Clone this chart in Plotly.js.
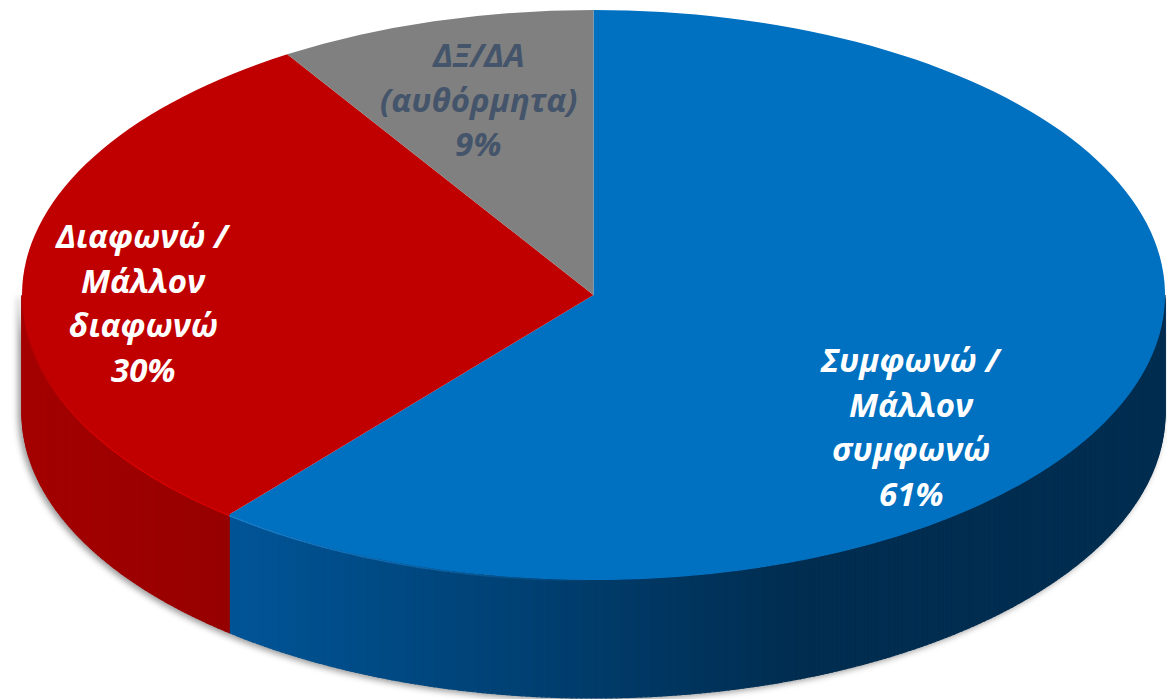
<!DOCTYPE html>
<html><head><meta charset="utf-8">
<script src="https://cdn.plot.ly/plotly-3.0.1.min.js"></script>
<style>html,body{margin:0;padding:0;background:#fff}#c{width:1167px;height:699px}</style>
</head><body><div id="c"></div>
<script>
const categories = ['Συμφωνώ /<br>Μάλλον<br>συμφωνώ', 'Διαφωνώ /<br>Μάλλον<br>διαφωνώ', 'ΔΞ/ΔΑ<br>(αυθόρμητα)'];
const values = [61, 30, 9];
const topColors = ['#0070c0', '#c00000', '#808080'];
const labelColors = ['#ffffff', '#ffffff', '#44546a'];
const labelX = [911, 143, 478];
const labelY = [359.5, 235.5, 54.5];
const lineGap = 44.7;

const W = 1167, H = 699;
const cx = 593.5, cy = 295, rx = 571.5, ry = 285, depth = 118;
const total = values.reduce((a, b) => a + b, 0);

function wallRGB(i, x) {
  if (i === 0) {
    const t = Math.min(1, Math.max(0, (x - 240) / 560));
    return [0, Math.round(84 - 39 * t), Math.round(150 - 70 * t)];
  }
  return i === 1 ? [Math.round(164 - 14 * (x - 22) / 218), 0, 0] : [102, 102, 102];
}
const rimRGB = [[26, 130, 207], [220, 0, 0], null];
const css = c => `rgb(${c[0]},${c[1]},${c[2]})`;

const ex = t => cx + rx * Math.sin(t);
const ey = t => cy - ry * Math.cos(t);

const wallTraces = [], rimTraces = [];
let start = 0;
values.forEach((v, i) => {
  const end = start + v / total * 2 * Math.PI;
  const a = Math.max(start, Math.PI / 2), b = Math.min(end, 3 * Math.PI / 2);
  if (b > a) {
    const steps = Math.ceil((b - a) / (Math.PI / 360));
    for (let s = 0; s < steps; s++) {
      const t0 = a + (b - a) * s / steps, t1 = a + (b - a) * (s + 1) / steps;
      const base = wallRGB(i, (ex(t0) + ex(t1)) / 2);
      const col = css(base);
      wallTraces.push({
        type: 'scatter', mode: 'lines', fill: 'toself', fillcolor: col,
        x: [ex(t0), ex(t1), ex(t1), ex(t0), ex(t0)],
        y: [ey(t0), ey(t1), ey(t1) + depth, ey(t0) + depth, ey(t0)],
        line: { color: col, width: 1.2 }, hoverinfo: 'skip', showlegend: false
      });
      if (rimRGB[i]) {
        // the lit rim fades into the wall colour towards the front of the disc
        const fade = i === 0 ? Math.max(0, (600 - ex(t0)) / 360) : Math.min(1, (ex(t0) - 22) / 60);
        if (fade > 0) {
          const mix = base.map((c, k) => Math.round(c + (rimRGB[i][k] - c) * fade));
          rimTraces.push({
            type: 'scatter', mode: 'lines', x: [ex(t0), ex(t1)], y: [ey(t0) + 0.8, ey(t1) + 0.8],
            line: { color: css(mix), width: 1.6 }, hoverinfo: 'skip', showlegend: false
          });
        }
      }
    }
  }
  start = end;
});

const pie = {
  type: 'pie', values: values, sort: false, direction: 'clockwise', rotation: 0,
  labels: categories, marker: { colors: topColors, line: { width: 0 } },
  textinfo: 'none', hoverinfo: 'skip', showlegend: false,
  domain: { x: [0, 1], y: [0, 1] }
};

const annotations = [];
categories.forEach((c, i) => {
  (c + '<br>' + values[i] + '%').split('<br>').forEach((line, k) => {
    annotations.push({
      x: labelX[i], y: labelY[i] + k * lineGap, xref: 'x', yref: 'y', showarrow: false,
      xanchor: 'center', yanchor: 'middle', align: 'center', text: line,
      font: { family: '"Open Sans", sans-serif', size: 33, color: labelColors[i], weight: 'bold', style: 'italic' }
    });
  });
});

const layout = {
  width: W, height: H, margin: { l: 0, r: 0, t: 0, b: 0 },
  paper_bgcolor: '#fff', plot_bgcolor: '#fff', showlegend: false,
  xaxis: { range: [0, W], visible: false, fixedrange: true },
  yaxis: { range: [H, 0], visible: false, fixedrange: true },
  annotations: annotations
};

Plotly.newPlot('c', wallTraces.concat(rimTraces, [pie]), layout, { staticPlot: true, displayModeBar: false }).then(() => {
  const r = Math.min(W, H) / 2;
  const sx = rx / r, sy = ry / r;
  const tx = cx - W / 2 * sx, ty = cy - H / 2 * sy;
  document.querySelector('.pielayer').setAttribute('transform', `matrix(${sx},0,0,${sy},${tx},${ty})`);
  document.querySelector('.cartesianlayer').style.filter = 'drop-shadow(-3px 2px 3px rgba(0,0,0,.4))';
});
</script>
</body></html>
